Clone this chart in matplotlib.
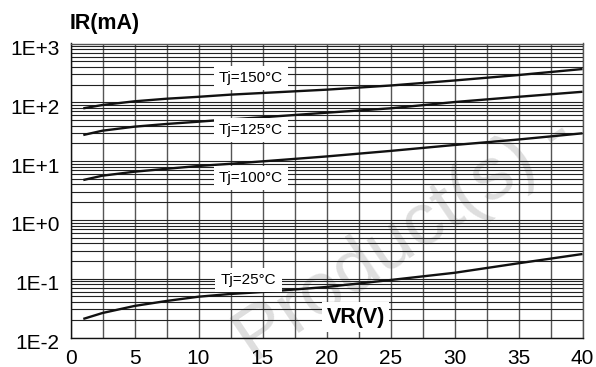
import matplotlib
matplotlib.use("Agg")
import matplotlib.pyplot as plt
import matplotlib.transforms as mtransforms
from matplotlib.ticker import LogLocator, NullFormatter, FixedLocator

plt.rcParams.update({
    "font.family": ["Liberation Sans", "DejaVu Sans"],
})

# Reverse voltage (V)
vr = [1, 2.5, 5, 7.5, 10, 12.5, 15, 20, 25, 30, 35, 40]

# Reverse current (mA) per junction temperature
ir_150 = [79, 90, 104, 115, 124, 135, 144, 164, 193, 235, 291, 368]
ir_125 = [27.8, 32.9, 38.5, 42.8, 46.8, 51.4, 55.6, 66.5, 79, 101, 124, 151]
ir_100 = [4.77, 5.65, 6.6, 7.4, 8.26, 9.0, 9.9, 12.0, 14.9, 18.8, 23.3, 29.7]
ir_25 = [0.0207, 0.0261, 0.0344, 0.0418, 0.0494, 0.055, 0.0594, 0.0723, 0.095, 0.126, 0.183, 0.263]

curves = [ir_150, ir_125, ir_100, ir_25]
curve_labels = ["Tj=150°C", "Tj=125°C", "Tj=100°C", "Tj=25°C"]
label_pos = [(14.1, 259), (14.1, 33.8), (14.1, 5.17), (13.9, 0.095)]

x_ticks = [0, 5, 10, 15, 20, 25, 30, 35, 40]
y_ticks = [1e-2, 1e-1, 1e0, 1e1, 1e2, 1e3]
y_tick_labels = ["1E-2", "1E-1", "1E+0", "1E+1", "1E+2", "1E+3"]

fig = plt.figure(figsize=(5.96, 3.67), dpi=100)
fig.patch.set_facecolor("white")
ax = fig.add_axes([70.5 / 596, 1 - 337.5 / 367, 512 / 596, 294 / 367])

for vals in curves:
    ax.plot(vr, vals, color="#111111", linewidth=1.7, zorder=3,
            solid_joinstyle="round", solid_capstyle="butt")

ax.set_yscale("log")
ax.set_xlim(0, 40)
ax.set_ylim(1e-2, 1e3)

ax.set_xticks(x_ticks)
ax.set_xticklabels([str(t) for t in x_ticks], fontsize=15)
ax.xaxis.set_minor_locator(FixedLocator([2.5 + 5 * i for i in range(8)]))
ax.set_yticks(y_ticks)
ax.set_yticklabels(y_tick_labels, fontsize=15)
ax.yaxis.set_minor_locator(LogLocator(base=10, subs=range(2, 10), numticks=20))
ax.yaxis.set_minor_formatter(NullFormatter())
ax.tick_params(which="both", length=0)
ax.tick_params(axis="x", pad=8)
ax.tick_params(axis="y", pad=8)

# y labels sit a little low in the original
shift = mtransforms.ScaledTranslation(0, -4 / 100, fig.dpi_scale_trans)
for lbl in ax.get_yticklabels():
    lbl.set_transform(lbl.get_transform() + shift)

ax.grid(True, which="both", axis="y", color="#222222", linewidth=0.8)
ax.grid(True, which="both", axis="x", color="#555555", linewidth=1.0)

for side in ["top", "right"]:
    ax.spines[side].set_color("#555555")
    ax.spines[side].set_linewidth(1.0)
for side in ["left", "bottom"]:
    ax.spines[side].set_color("#111111")
    ax.spines[side].set_linewidth(1.0)

box = dict(facecolor="white", edgecolor="none", boxstyle="square,pad=0.35")
for (x, y), txt in zip(label_pos, curve_labels):
    ax.text(x, y, txt, fontsize=11, ha="center", va="center", bbox=box, zorder=4)

ax.text(22.3, 0.0223, "VR(V)", fontsize=15.5, fontweight="bold", ha="center", va="center",
        bbox=dict(facecolor="white", edgecolor="none", boxstyle="square,pad=0.2"), zorder=4)

fig.text(70 / 596, 1 - 23 / 367, "IR(mA)", fontsize=15.5, fontweight="bold", ha="left", va="center")

# watermark, drawn under the grid
ax.text(405 / 596, 1 - 238 / 367, "Product(s) -", transform=fig.transFigure,
        fontsize=54, color="#dedede", rotation=34, rotation_mode="anchor",
        ha="center", va="center", zorder=0.5, clip_on=False)

fig.savefig("out.png", dpi=100, facecolor="white")
